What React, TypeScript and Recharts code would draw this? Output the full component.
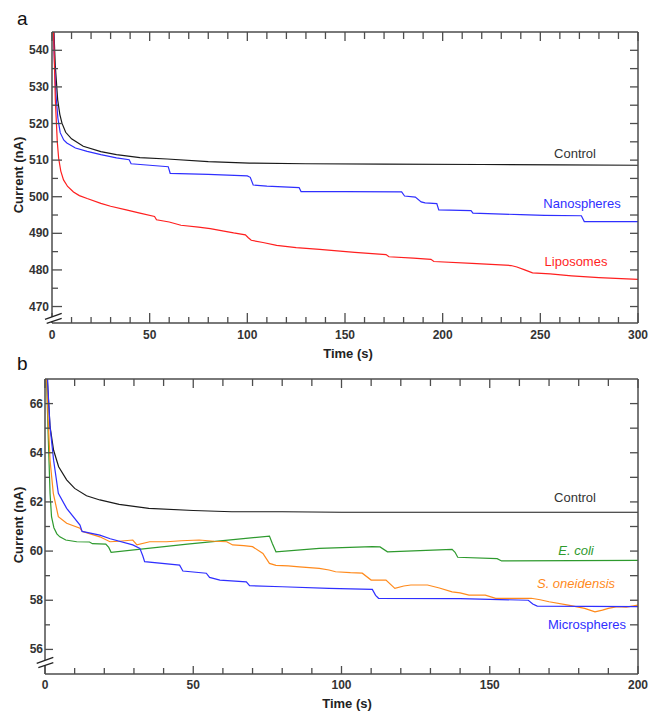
import React from 'react';
import { LineChart, Line, XAxis, YAxis } from 'recharts';

const FONT = '"Liberation Sans", Arial, Helvetica, sans-serif';
const AXIS = '#4d4d4d';
const TICK_TEXT = '#333';

// ---- panel a ----
const aControlT = [0.3, 1, 1.7, 2.9, 4, 5.1, 7, 10, 16, 25, 33, 45, 59, 80, 101, 130, 170, 220, 260, 300];
const aControlI = [565, 545, 535.6, 526.5, 522.5, 520.1, 517.6, 515.8, 513.8, 512.3, 511.5, 510.7, 510.3, 509.6, 509.2, 509.0, 508.9, 508.8, 508.7, 508.6];

const aNanoT = [0.3, 1, 2, 3, 4.2, 6, 7.6, 12, 18, 25, 33, 39.5, 40.5, 50, 59.5, 60.5, 80, 100, 101.5, 103, 110, 126.5, 127.5, 150, 179, 180.5, 186, 189, 191, 197, 198, 214.5, 215.5, 240, 252, 271, 272.5, 300];
const aNanoI = [560, 540, 528, 521.5, 517.5, 515.5, 514.7, 513.3, 512.4, 511.5, 510.6, 510.1, 509, 508.6, 508.2, 506.4, 506.1, 505.7, 505.3, 503.2, 502.9, 502.5, 501.4, 501.4, 501.3, 500.2, 499.9, 498.6, 498.3, 498.1, 496.4, 496.2, 495.5, 495.1, 494.9, 494.8, 493.2, 493.2];

const aLipoT = [0.3, 0.8, 1.3, 1.7, 2.7, 3.4, 4.5, 5.9, 8, 11, 14, 18, 25, 30, 38, 45, 52.5, 53.5, 60, 66, 75, 81, 88, 93, 99, 100.5, 102, 108, 115, 125, 137, 155, 171, 172.5, 185, 194, 195.5, 215, 235, 238, 242, 246, 255, 266, 280, 300];
const aLipoI = [560, 545, 535, 526.5, 515, 510.5, 507, 504.6, 502.8, 501.3, 500.3, 499.5, 498.2, 497.4, 496.4, 495.5, 494.6, 493.7, 493.1, 492.2, 491.7, 491.3, 490.6, 490.1, 489.6, 488.8, 488.1, 487.5, 486.7, 486.1, 485.6, 484.8, 484.2, 483.6, 483.2, 482.9, 482.3, 481.8, 481.2, 480.8, 480.0, 479.2, 478.9, 478.4, 477.9, 477.4];

const aTimeTicks = [0, 10, 20, 30, 40, 50, 60, 70, 80, 90, 100, 110, 120, 130, 140, 150, 160, 170, 180, 190, 200, 210, 220, 230, 240, 250, 260, 270, 280, 290, 300];
const aTimeLabels = [0, 50, 100, 150, 200, 250, 300];
const aCurrentTicks = [470, 475, 480, 485, 490, 495, 500, 505, 510, 515, 520, 525, 530, 535, 540];
const aCurrentLabels = [470, 480, 490, 500, 510, 520, 530, 540];

// ---- panel b ----
const bControlT = [0.3, 1, 1.7, 2.9, 4.6, 7.3, 10, 14, 18.5, 25, 35, 50, 63, 80, 100, 130, 160, 200];
const bControlI = [68, 66.5, 65.06, 64.1, 63.43, 62.9, 62.55, 62.25, 62.08, 61.9, 61.74, 61.65, 61.6, 61.6, 61.58, 61.58, 61.58, 61.58];

const bEcoliT = [0.3, 1, 1.7, 2.2, 3, 4, 5, 7, 10.7, 15, 16, 20.5, 21.5, 22.3, 48, 75.7, 76.7, 77.9, 92.5, 110.4, 113, 115.5, 137.3, 138.3, 139.2, 152.5, 154, 200];
const bEcoliI = [68, 65, 62.35, 61.4, 60.95, 60.7, 60.58, 60.45, 60.38, 60.37, 60.3, 60.28, 60.15, 59.95, 60.28, 60.61, 60.3, 59.97, 60.11, 60.18, 60.17, 59.97, 60.07, 59.95, 59.75, 59.69, 59.6, 59.62];

const bShewT = [0.3, 1, 1.7, 2.8, 4.5, 7.3, 11.8, 12.6, 18.5, 21.9, 25, 29.6, 31, 35.3, 41, 46, 52, 57, 61.3, 63.3, 67, 70, 73.5, 75.7, 77.9, 82, 85.8, 92.5, 95.8, 98, 103, 107, 110, 115, 118, 121, 123.4, 129, 133, 137.3, 140, 143, 148.5, 152, 160, 164, 167, 170, 176.5, 182, 185.5, 188, 190, 193, 196, 200];
const bShewI = [68, 65.5, 63.7, 62.35, 61.4, 61.13, 60.93, 60.8, 60.58, 60.38, 60.4, 60.45, 60.25, 60.38, 60.38, 60.42, 60.45, 60.4, 60.38, 60.25, 60.22, 60.18, 59.9, 59.5, 59.42, 59.4, 59.36, 59.3, 59.23, 59.16, 59.12, 59.1, 58.82, 58.82, 58.48, 58.58, 58.62, 58.62, 58.5, 58.34, 58.3, 58.21, 58.21, 58.08, 58.08, 58.08, 58.02, 57.94, 57.8, 57.67, 57.53, 57.6, 57.67, 57.74, 57.72, 57.8];

const bMicroT = [0.3, 1, 1.7, 2.9, 4.5, 7.3, 11.8, 12.5, 18.5, 22, 29.6, 32, 33, 33.6, 45.4, 46.5, 54.4, 55.5, 59, 67.9, 69, 80, 95.8, 110.4, 111.5, 112.5, 140, 163, 164.5, 166, 200];
const bMicroI = [69, 66.6, 65.06, 63.7, 62.35, 61.74, 61.06, 60.8, 60.65, 60.5, 60.25, 60.11, 59.8, 59.57, 59.43, 59.19, 59.1, 58.93, 58.82, 58.75, 58.59, 58.55, 58.48, 58.44, 58.2, 58.08, 58.07, 58.0, 57.85, 57.76, 57.74];

const bTimeTicks = [0, 10, 20, 30, 40, 50, 60, 70, 80, 90, 100, 110, 120, 130, 140, 150, 160, 170, 180, 190, 200];
const bTimeLabels = [0, 50, 100, 150, 200];
const bCurrentTicks = [56, 57, 58, 59, 60, 61, 62, 63, 64, 65, 66];
const bCurrentLabels = [56, 58, 60, 62, 64, 66];

const zip = (t: number[], v: number[]) => t.map((x, i) => ({ t: x, v: v[i] }));

type TickProps = { x?: number; y?: number; payload?: { value: number } };

const tickText = { fontFamily: FONT, fontSize: 12, fontWeight: 700, fill: TICK_TEXT } as const;

const bottomTick = (labels: number[], major: number, minor: number, dy: number) =>
  ({ x = 0, y = 0, payload }: TickProps) => {
    const v = payload ? payload.value : 0;
    const isMajor = labels.includes(v);
    return (
      <g>
        <line x1={x} y1={y} x2={x} y2={y - (isMajor ? major : minor)} stroke={AXIS} strokeWidth={1.3} />
        {isMajor && (
          <text x={x} y={y + dy} textAnchor="middle" {...tickText}>{v}</text>
        )}
      </g>
    );
  };

const leftTick = (labels: number[], major: number, minor: number, gap: number) =>
  ({ x = 0, y = 0, payload }: TickProps) => {
    const v = payload ? payload.value : 0;
    const isMajor = labels.includes(v);
    return (
      <g>
        <line x1={x} y1={y} x2={x + (isMajor ? major : minor)} y2={y} stroke={AXIS} strokeWidth={1.3} />
        {isMajor && (
          <text x={x - gap} y={y + 4} textAnchor="end" {...tickText}>{v}</text>
        )}
      </g>
    );
  };

const topTick = (labels: number[], major: number, minor: number) =>
  ({ x = 0, y = 0, payload }: TickProps) => {
    const v = payload ? payload.value : 0;
    const len = labels.includes(v) ? major : minor;
    return <line x1={x} y1={y} x2={x} y2={y + len} stroke={AXIS} strokeWidth={1.3} />;
  };

const rightTick = (len: number) =>
  ({ x = 0, y = 0 }: TickProps) => (
    <line x1={x} y1={y} x2={x - len} y2={y} stroke={AXIS} strokeWidth={1.3} />
  );

const axisLine = { stroke: AXIS, strokeWidth: 1.5 };

type Series = { name: string; color: string; data: { t: number; v: number }[] };

interface PanelProps {
  width: number;
  height: number;
  left: number;
  top: number;
  right: number;
  bottom: number;
  xDomain: [number, number];
  yDomain: [number, number];
  xTicks: number[];
  xLabels: number[];
  yTicks: number[];
  yLabels: number[];
  series: Series[];
  tick: { xMajor: number; xMinor: number; yMajor: number; yMinor: number; xDy: number; yGap: number };
}

const Panel: React.FC<PanelProps> = (p) => (
  <LineChart width={p.width} height={p.height} margin={{ top: 0, right: 0, bottom: 0, left: 0 }}>
    <XAxis
      xAxisId="bottom"
      dataKey="t"
      type="number"
      domain={p.xDomain}
      allowDataOverflow
      ticks={p.xTicks}
      interval={0}
      height={p.bottom}
      tickSize={0}
      tickMargin={0}
      tickLine={false}
      axisLine={axisLine}
      tick={bottomTick(p.xLabels, p.tick.xMajor, p.tick.xMinor, p.tick.xDy)}
    />
    <XAxis
      xAxisId="top"
      orientation="top"
      dataKey="t"
      type="number"
      domain={p.xDomain}
      allowDataOverflow
      ticks={p.xTicks}
      interval={0}
      height={p.top}
      tickSize={0}
      tickMargin={0}
      tickLine={false}
      axisLine={axisLine}
      tick={topTick(p.xLabels, 9, 7)}
    />
    <YAxis
      yAxisId="left"
      type="number"
      domain={p.yDomain}
      allowDataOverflow
      ticks={p.yTicks}
      interval={0}
      width={p.left}
      tickSize={0}
      tickMargin={0}
      tickLine={false}
      axisLine={axisLine}
      tick={leftTick(p.yLabels, p.tick.yMajor, p.tick.yMinor, p.tick.yGap)}
    />
    <YAxis
      yAxisId="right"
      orientation="right"
      type="number"
      domain={p.yDomain}
      allowDataOverflow
      ticks={p.yTicks}
      interval={0}
      width={p.right}
      tickSize={0}
      tickMargin={0}
      tickLine={false}
      axisLine={axisLine}
      tick={rightTick(8)}
    />
    {p.series.map((s) => (
      <Line
        key={s.name}
        xAxisId="bottom"
        yAxisId="left"
        data={s.data}
        dataKey="v"
        name={s.name}
        type="linear"
        stroke={s.color}
        strokeWidth={1.2}
        dot={false}
        activeDot={false}
        isAnimationActive={false}
      />
    ))}
  </LineChart>
);

const BLACK = '#1a1a1a';
const BLUE = '#2f2fff';
const RED = '#ff1f1f';
const GREEN = '#2e9a2e';
const ORANGE = '#ff8a1c';

const seriesA: Series[] = [
  { name: 'Control', color: BLACK, data: zip(aControlT, aControlI) },
  { name: 'Nanospheres', color: BLUE, data: zip(aNanoT, aNanoI) },
  { name: 'Liposomes', color: RED, data: zip(aLipoT, aLipoI) },
];

const seriesB: Series[] = [
  { name: 'Control', color: BLACK, data: zip(bControlT, bControlI) },
  { name: 'E. coli', color: GREEN, data: zip(bEcoliT, bEcoliI) },
  { name: 'S. oneidensis', color: ORANGE, data: zip(bShewT, bShewI) },
  { name: 'Microspheres', color: BLUE, data: zip(bMicroT, bMicroI) },
];

const labelText = { fontFamily: FONT, fontSize: 13 } as const;
const titleText = { fontFamily: FONT, fontSize: 13, fontWeight: 700, fill: '#222' } as const;

export default function App() {
  return (
    <div style={{ position: 'absolute', left: 0, top: 0, width: 649, height: 711, background: '#fff' }}>
      <div style={{ position: 'absolute', left: 0, top: 0 }}>
        <Panel
          width={649}
          height={360}
          left={52}
          top={32}
          right={11}
          bottom={37}
          xDomain={[0, 300]}
          yDomain={[465.5, 545]}
          xTicks={aTimeTicks}
          xLabels={aTimeLabels}
          yTicks={aCurrentTicks}
          yLabels={aCurrentLabels}
          series={seriesA}
          tick={{ xMajor: 10, xMinor: 6, yMajor: 10, yMinor: 6, xDy: 16, yGap: 3 }}
        />
      </div>
      <div style={{ position: 'absolute', left: 0, top: 360 }}>
        <Panel
          width={649}
          height={351}
          left={45}
          top={19}
          right={11}
          bottom={37}
          xDomain={[0, 200]}
          yDomain={[55, 67]}
          xTicks={bTimeTicks}
          xLabels={bTimeLabels}
          yTicks={bCurrentTicks}
          yLabels={bCurrentLabels}
          series={seriesB}
          tick={{ xMajor: 8, xMinor: 6, yMajor: 8, yMinor: 5, xDy: 15, yGap: 2 }}
        />
      </div>
      <svg
        width={649}
        height={711}
        style={{ position: 'absolute', left: 0, top: 0, pointerEvents: 'none' }}
      >
        <text x={17} y={25} style={{ fontFamily: FONT, fontSize: 19 }} fill="#111">a</text>
        <text x={17} y={370} style={{ fontFamily: FONT, fontSize: 19 }} fill="#111">b</text>

        <text x={18} y={175} transform="rotate(-90 18 175)" textAnchor="middle" dominantBaseline="central" {...titleText}>Current (nA)</text>
        <text x={18} y={525} transform="rotate(-90 18 525)" textAnchor="middle" dominantBaseline="central" {...titleText}>Current (nA)</text>
        <text x={348} y={358} textAnchor="middle" {...titleText}>Time (s)</text>
        <text x={347} y={708} textAnchor="middle" {...titleText}>Time (s)</text>

        <text x={575} y={158} textAnchor="middle" fill="#333" {...labelText}>Control</text>
        <text x={582} y={208} textAnchor="middle" fill={BLUE} {...labelText}>Nanospheres</text>
        <text x={576} y={266} textAnchor="middle" fill={RED} {...labelText}>Liposomes</text>

        <text x={575} y={502} textAnchor="middle" fill="#333" {...labelText}>Control</text>
        <text x={576} y={555} textAnchor="middle" fill={GREEN} fontStyle="italic" {...labelText}>E. coli</text>
        <text x={576} y={588} textAnchor="middle" fill={ORANGE} fontStyle="italic" {...labelText}>S. oneidensis</text>
        <text x={587} y={629} textAnchor="middle" fill={BLUE} {...labelText}>Microspheres</text>

        {/* axis breaks */}
        <polygon points="45,319.3 61.7,313.3 61.7,318.3 46.7,323.3" fill="#fff" />
        <line x1={45} y1={319.3} x2={61.7} y2={313.3} stroke="#222" strokeWidth={1.3} />
        <line x1={46.7} y1={323.3} x2={61.7} y2={318.3} stroke="#222" strokeWidth={1.3} />

        <polygon points="36.7,663.3 53.3,657.3 53.3,662.7 38.3,667.7" fill="#fff" />
        <line x1={36.7} y1={663.3} x2={53.3} y2={657.3} stroke="#222" strokeWidth={1.3} />
        <line x1={38.3} y1={667.7} x2={53.3} y2={662.7} stroke="#222" strokeWidth={1.3} />
      </svg>
    </div>
  );
}
